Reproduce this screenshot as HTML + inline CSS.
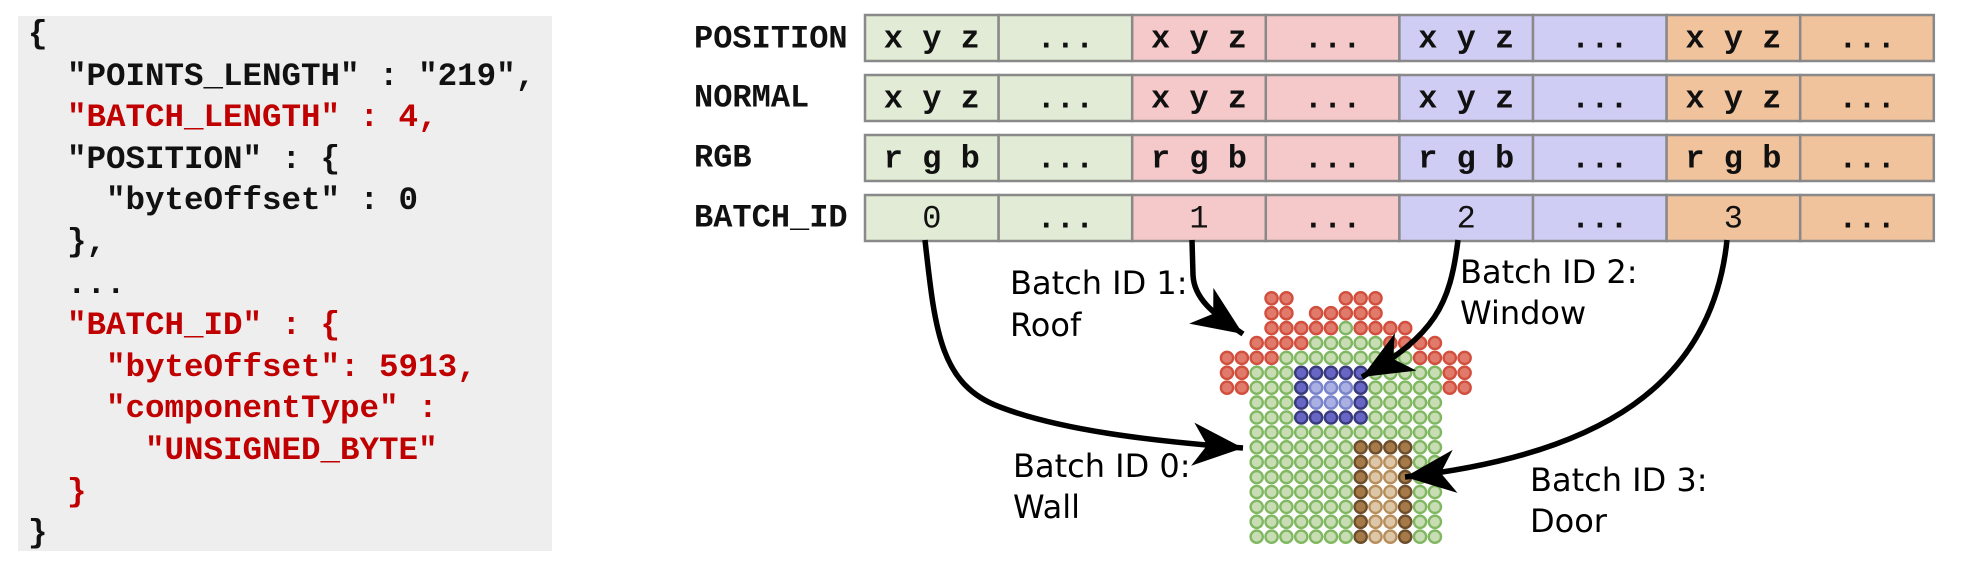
<!DOCTYPE html>
<html><head><meta charset="utf-8"><style>
html,body{margin:0;padding:0;background:#fff;}
body{width:1965px;height:571px;overflow:hidden;position:relative;}
#json{position:absolute;left:18px;top:16px;width:534px;height:535px;background:#eeeeee;}
#json pre{margin:0;position:absolute;left:10px;top:-2px;font-family:"Liberation Mono",monospace;font-weight:bold;font-size:32.5px;line-height:41.6px;color:#111;}
.r{color:#c00000;}
svg{position:absolute;left:0;top:0;}
</style></head><body>
<div id="json"><pre>{
  "POINTS_LENGTH" : "219",
<span class="r">  "BATCH_LENGTH" : 4,</span>
  "POSITION" : {
    "byteOffset" : 0
  },
  ...
<span class="r">  "BATCH_ID" : {
    "byteOffset": 5913,
    "componentType" :
      "UNSIGNED_BYTE"
  }</span>
}</pre></div>
<svg id="s" width="1965" height="571" viewBox="0 0 1965 571" xmlns="http://www.w3.org/2000/svg">
<defs>
<marker id="ah" markerUnits="userSpaceOnUse" markerWidth="60" markerHeight="60" viewBox="-45 -25 50 50" refX="0" refY="0" orient="auto">
<path d="M0,0 L-42,-18 L-30,0 L-42,18 Z" fill="#000"/>
</marker>
</defs>
<g font-family="Liberation Mono, monospace" font-weight="bold" font-size="32" fill="#111">
<text x="694" y="39" dominant-baseline="central">POSITION</text>
<text x="694" y="98" dominant-baseline="central">NORMAL</text>
<text x="694" y="158" dominant-baseline="central">RGB</text>
<text x="694" y="218" dominant-baseline="central">BATCH_ID</text>
</g>
<g id="tbl"></g>
<g id="house"></g>
<g fill="none" stroke="#000" stroke-width="5.5" stroke-linecap="butt">
<path d="M925,240 C935,330 940,385 1000,407 C1060,430 1150,441 1243,448" marker-end="url(#ah)"/>
<path d="M1192,240 L1193,275 C1194,298 1212,313 1243,334" marker-end="url(#ah)"/>
<path d="M1458,240 C1450,305 1435,335 1362,377" marker-end="url(#ah)"/>
<path d="M1727,240 C1712,385 1600,455 1405,477" marker-end="url(#ah)"/>
</g>
<g font-family="DejaVu Sans, sans-serif" font-size="32" fill="#000">
<text x="1010" y="294">Batch ID 1:</text><text x="1010" y="336">Roof</text>
<text x="1013" y="477">Batch ID 0:</text><text x="1013" y="518">Wall</text>
<text x="1460" y="283">Batch ID 2:</text><text x="1460" y="324">Window</text>
<text x="1530" y="491">Batch ID 3:</text><text x="1530" y="532">Door</text>
</g>
</svg>
<script>
(function(){
var NS="http://www.w3.org/2000/svg";
function el(p,n,a,t){var e=document.createElementNS(NS,n);for(var k in a)e.setAttribute(k,a[k]);if(t!==undefined)e.textContent=t;p.appendChild(e);return e;}
var tbl=document.getElementById('tbl');
var cols=['#e1ebd5','#e1ebd5','#f5c9ca','#f5c9ca','#cfcdf3','#cfcdf3','#f0c39d','#f0c39d'];
var rows=[15,75,135,195];
var cw=133.6,x0=865,h=46;
var content=[['x y z','...'],['x y z','...'],['r g b','...'],null];
for(var r=0;r<4;r++){
 for(var c=0;c<8;c++){
  var x=x0+c*cw;
  el(tbl,'rect',{x:x,y:rows[r],width:cw,height:h,fill:cols[c],stroke:'#898989','stroke-width':2.5});
  var t,bold=true;
  if(r<3){t=content[r][c%2];}else{ if(c%2==0){t=String(c/2);bold=false;}else t='...';}
  el(tbl,'text',{x:x+cw/2,y:rows[r]+h/2+1,'text-anchor':'middle','dominant-baseline':'central','font-family':'Liberation Mono, monospace','font-weight':bold?'bold':'normal','font-size':32,fill:'#111'},t);
 }
}
var house=document.getElementById('house');
var st={g:['#c9ddb5','#80b862'],r:['#e07b6b','#d24f3e'],b:['#6866c4','#383a7c'],l:['#aab0e2','#7a84cc'],n:['#a57a48','#6c4e2c'],m:['#dcc8a8','#b88f5c']};
function row(spec){var a=[];for(var i=0;i<17;i++)a.push('.');spec.forEach(function(s){for(var i=s[0];i<=s[1];i++)a[i]=s[2];});return a;}
var R=[
row([[3,4,'r'],[8,10,'r']]),
row([[3,4,'r'],[6,10,'r']]),
row([[3,7,'r'],[8,8,'g'],[9,12,'r']]),
row([[2,5,'r'],[6,10,'g'],[11,14,'r']]),
row([[0,3,'r'],[4,12,'g'],[13,16,'r']]),
row([[0,1,'r'],[2,4,'g'],[5,9,'b'],[10,14,'g'],[15,16,'r']]),
row([[0,1,'r'],[2,4,'g'],[5,5,'b'],[6,8,'l'],[9,9,'b'],[10,14,'g'],[15,16,'r']]),
row([[2,4,'g'],[5,5,'b'],[6,8,'l'],[9,9,'b'],[10,14,'g']]),
row([[2,4,'g'],[5,9,'b'],[10,14,'g']]),
row([[2,14,'g']]),
row([[2,8,'g'],[9,12,'n'],[13,14,'g']])];
for(var k=11;k<17;k++)R.push(row([[2,8,'g'],[9,9,'n'],[10,11,'m'],[12,12,'n'],[13,14,'g']]));
for(var r=0;r<R.length;r++)for(var c=0;c<17;c++){var v=R[r][c];if(v=='.')continue;
 el(house,'circle',{cx:1227+c*14.85,cy:298.3+r*14.9,r:6.1,fill:st[v][0],stroke:st[v][1],'stroke-width':2.4});}
})();
</script>
</body></html>
